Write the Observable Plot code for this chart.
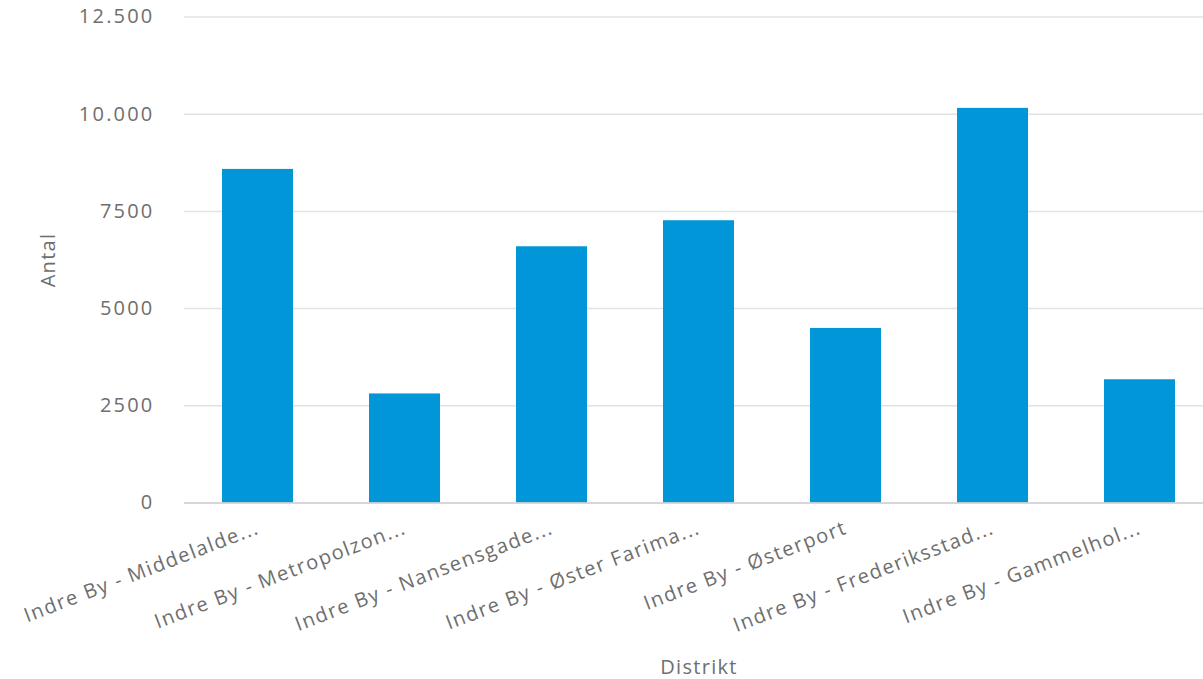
<!DOCTYPE html>
<html>
<head>
<meta charset="utf-8">
<script src="https://cdn.jsdelivr.net/npm/d3@7"></script>
<script src="https://cdn.jsdelivr.net/npm/@observablehq/plot@0.6"></script>
<style>
  html, body { margin: 0; padding: 0; background: #fff; overflow: hidden; }
  #chart svg { display: block; max-width: none !important; }
  #chart g[aria-label="y-axis tick label"] text { letter-spacing: 2.2px; }
  #chart g[aria-label="x-axis tick label"] text { letter-spacing: 1.5px; }
  #chart g[aria-label="text"] text { letter-spacing: 1.3px; }
</style>
</head>
<body>
<div id="chart"></div>
<script>
const categories = [
  "Indre By - Middelalde...",
  "Indre By - Metropolzon...",
  "Indre By - Nansensgade...",
  "Indre By - Øster Farima...",
  "Indre By - Østerport",
  "Indre By - Frederiksstad...",
  "Indre By - Gammelhol..."
];
const values = [8580, 2805, 6590, 7260, 4490, 10150, 3170];
const yTicks = [0, 2500, 5000, 7500, 10000, 12500];
const yTickLabels = ["0", "2500", "5000", "7500", "10.000", "12.500"];
const yLabel = "Antal";
const xLabel = "Distrikt";

const data = categories.map((c, i) => ({ district: c, count: values[i] }));
const fmt = v => yTickLabels[yTicks.indexOf(v)];

const textColor = "#6e6e6e";
const font = "'Open Sans', Lato, sans-serif";
const chart = Plot.plot({
  width: 1213,
  height: 679,
  marginLeft: 184,
  marginRight: 0,
  marginTop: 16.5,
  marginBottom: 176.5,
  style: { fontFamily: font, fontSize: "18px", color: textColor, background: "#fff", overflow: "visible" },
  x: { domain: categories, paddingInner: 0.52, paddingOuter: 0.26, label: null },
  y: { domain: [0, 12500], label: null },
  marks: [
    Plot.gridY(yTicks, { stroke: "#e2e2e2", strokeOpacity: 1, strokeWidth: 1.5 }),
    Plot.barY(data, { x: "district", y: "count", fill: "#0096d8" }),
    Plot.ruleY([0], { stroke: "#d0d0d0", strokeWidth: 1.5 }),
    Plot.axisY(yTicks, { tickSize: 0, tickPadding: 30, tickFormat: fmt, fontSize: 20, fill: textColor, label: null }),
    Plot.axisX({ tickSize: 0, tickPadding: 24, tickRotate: -21, fontSize: 20, fill: textColor, label: null }),
    Plot.text([yLabel], { frameAnchor: "left", textAnchor: "middle", lineAnchor: "middle", text: d => d, rotate: -90, dx: -136, fontSize: 20, fill: textColor }),
    Plot.text([xLabel], { frameAnchor: "bottom", textAnchor: "middle", lineAnchor: "middle", text: d => d, dy: 165, fontSize: 20, fill: textColor })
  ]
});
document.getElementById("chart").appendChild(chart);
</script>
</body>
</html>
